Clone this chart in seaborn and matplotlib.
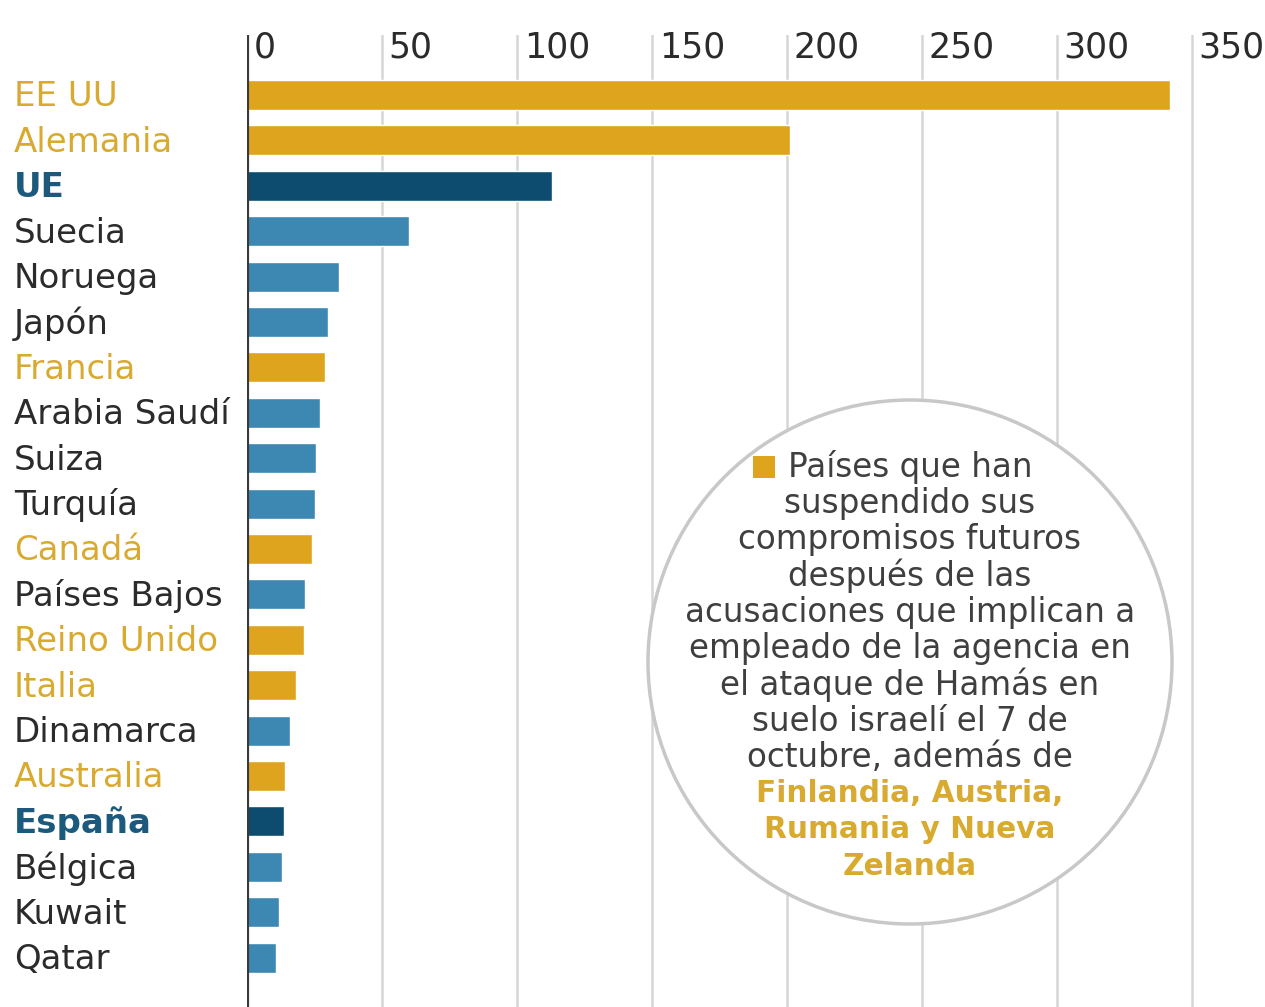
import numpy as np
import matplotlib
matplotlib.use("Agg")
import matplotlib.pyplot as plt
import seaborn as sns
import pandas as pd
from matplotlib.patches import Ellipse, Rectangle

# Datos (millones de dólares)
paises = ["EE UU", "Alemania", "UE", "Suecia", "Noruega", "Japón", "Francia",
          "Arabia Saudí", "Suiza", "Turquía", "Canadá", "Países Bajos",
          "Reino Unido", "Italia", "Dinamarca", "Australia", "España",
          "Bélgica", "Kuwait", "Qatar"]
aportes = [342, 201, 113, 60, 34, 30, 29, 27, 25.5, 25, 24, 21.5, 21, 18,
           16, 14, 13.7, 13, 12, 10.7]
grupo = ["susp", "susp", "dest", "otro", "otro", "otro", "susp", "otro",
         "otro", "otro", "susp", "otro", "susp", "susp", "otro", "susp",
         "dest", "otro", "otro", "otro"]
ticks = [0, 50, 100, 150, 200, 250, 300, 350]

texto_circulo = ["Países que han", "suspendido sus", "compromisos futuros",
                 "después de las", "acusaciones que implican a",
                 "empleado de la agencia en", "el ataque de Hamás en",
                 "suelo israelí el 7 de", "octubre, además de"]
texto_oro = ["Finlandia, Austria,", "Rumania y Nueva", "Zelanda"]

# Colores
ORO = "#DFA41E"
ORO_TXT = "#D9AA30"
AZUL_OSC = "#0D4C6E"
AZUL = "#3C88B2"
GRIS_TXT = "#2b2b2b"
paleta = {"susp": ORO, "dest": AZUL_OSC, "otro": AZUL}
col_etq = {"susp": ORO_TXT, "dest": "#1B5A7C", "otro": GRIS_TXT}

W, H = 1265, 1007
sns.set_style("white")
plt.rcParams["font.family"] = ["DejaVu Sans"]

df = pd.DataFrame({"pais": paises, "valor": aportes, "grupo": grupo})

fig = plt.figure(figsize=(W / 100, H / 100), dpi=100)
ax_l, ax_top = 247, 35
ax = fig.add_axes([ax_l / W, 0, 1 - ax_l / W, 1 - ax_top / H])

sns.barplot(data=df, x="valor", y="pais", hue="grupo", palette=paleta,
            orient="h", dodge=False, width=0.66, legend=False, ax=ax,
            saturation=1, zorder=3)

# escalas: fila i en y = 95 + 45.4*i px
paso = 45.4
ax.set_ylim((H - 95) / paso, (ax_top - 95) / paso)
px_u = 2.7
ax.set_xlim(0, (W - ax_l) / px_u)

ax.set_xticks([])
ax.set_yticks([])
ax.set_xlabel("")
ax.set_ylabel("")
for s in ax.spines.values():
    s.set_visible(False)

# líneas verticales de la cuadrícula + etiquetas arriba
for t in ticks:
    if t == 0:
        ax.axvline(0, color="#3a3a3a", lw=3, zorder=4)
    else:
        ax.axvline(t, color="#d6d6d6", lw=1.8, zorder=1)
    ax.text(t + 2.5, -1.05, str(t), ha="left", va="center", fontsize=25,
            color=GRIS_TXT)

# etiquetas de países
for i, (p, g) in enumerate(zip(paises, grupo)):
    fw = "bold" if g == "dest" else "normal"
    ax.text(-233 / px_u, i + 0.04, p, ha="left", va="center", fontsize=24.5,
            color=col_etq[g], fontweight=fw, clip_on=False)

# círculo con la nota
cx, cy, r = 910, 662, 262
circ = Ellipse((cx / W, 1 - cy / H), 2 * r / W, 2 * r / H,
               transform=fig.transFigure, facecolor="white",
               edgecolor="#c8c8c8", lw=2.5, zorder=5)
fig.add_artist(circ)

y0, dy = 467, 36.3
for k, linea in enumerate(texto_circulo):
    fig.text(cx / W, 1 - (y0 + k * dy) / H, linea, ha="center", va="center",
             fontsize=23.5, color="#3f3f3f", zorder=6)
fig.add_artist(Rectangle((753 / W, 1 - 478 / H), 22 / W, 22 / H,
                         transform=fig.transFigure, facecolor=ORO,
                         edgecolor="none", zorder=6))
for k, linea in enumerate(texto_oro):
    yk = y0 + (len(texto_circulo) + k) * dy
    fig.text(cx / W, 1 - yk / H, linea, ha="center", va="center",
             fontsize=21.3, color=ORO_TXT, fontweight="bold", zorder=6)

fig.savefig("out.png", dpi=100, facecolor="white")
